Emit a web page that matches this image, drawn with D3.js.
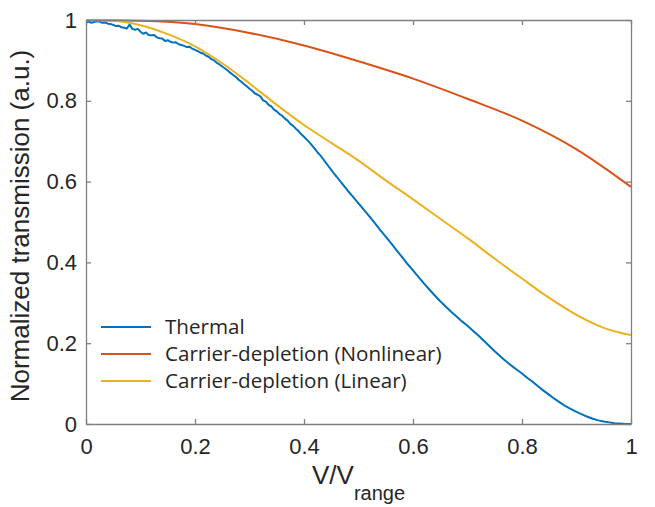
<!DOCTYPE html>
<html>
<head>
<meta charset="utf-8">
<script src="https://cdn.jsdelivr.net/npm/d3@7"></script>
<style>
  html, body { margin: 0; padding: 0; background: #fff; }
  svg { display: block; }
</style>
</head>
<body>
<svg id="chart" width="655" height="507"></svg>
<script>
// ---------- data ----------
const xTicks = [0, 0.2, 0.4, 0.6, 0.8, 1];
const yTicks = [0, 0.2, 0.4, 0.6, 0.8, 1];
const xTickLabels = ["0", "0.2", "0.4", "0.6", "0.8", "1"];
const yTickLabels = ["0", "0.2", "0.4", "0.6", "0.8", "1"];

const seriesNames = ["Thermal", "Carrier-depletion (Nonlinear)", "Carrier-depletion (Linear)"];
const seriesColors = ["#0072BD", "#D95319", "#EDB120"];

// Thermal (measured, noisy)
const thermal = [
  [0.000,0.994],[0.005,0.996],[0.010,0.993],[0.015,0.995],[0.020,0.997],[0.025,0.996],
  [0.030,0.993],[0.035,0.994],[0.040,0.991],[0.045,0.990],[0.050,0.988],[0.055,0.985],
  [0.060,0.986],[0.065,0.982],[0.070,0.981],[0.075,0.979],[0.080,0.989],[0.085,0.978],
  [0.090,0.976],[0.095,0.978],[0.100,0.971],[0.105,0.966],[0.110,0.969],[0.115,0.963],
  [0.120,0.962],[0.125,0.963],[0.130,0.957],[0.135,0.955],[0.140,0.954],[0.145,0.948],
  [0.150,0.950],[0.155,0.946],[0.160,0.944],[0.165,0.945],[0.170,0.940],[0.175,0.938],
  [0.180,0.936],[0.185,0.933],[0.190,0.934],[0.195,0.929],[0.200,0.926],[0.205,0.923],
  [0.210,0.919],[0.215,0.917],[0.220,0.912],[0.225,0.909],[0.230,0.903],[0.235,0.900],
  [0.240,0.894],[0.245,0.890],[0.250,0.885],[0.255,0.880],[0.260,0.875],[0.265,0.869],
  [0.270,0.864],[0.275,0.859],[0.280,0.852],[0.285,0.847],[0.290,0.841],[0.295,0.836],
  [0.300,0.830],[0.305,0.825],[0.310,0.818],[0.315,0.815],[0.320,0.811],[0.325,0.801],
  [0.330,0.798],[0.335,0.790],[0.340,0.786],[0.345,0.778],[0.350,0.774],[0.355,0.767],
  [0.360,0.763],[0.365,0.756],[0.370,0.751],[0.375,0.743],[0.380,0.738],[0.385,0.731],
  [0.390,0.725],[0.395,0.717],[0.400,0.711],[0.405,0.704],[0.410,0.697],[0.415,0.689],
  [0.420,0.681],[0.425,0.672],[0.430,0.665],[0.435,0.656],[0.440,0.647],[0.445,0.638],
  [0.450,0.629],[0.455,0.620],[0.460,0.612],[0.470,0.595],[0.480,0.578],[0.490,0.562],
  [0.500,0.546],[0.510,0.530],[0.520,0.514],[0.530,0.497],[0.540,0.480],[0.550,0.464],
  [0.560,0.447],[0.570,0.430],[0.580,0.413],[0.590,0.396],[0.600,0.380],[0.610,0.364],
  [0.620,0.348],[0.630,0.333],[0.640,0.318],[0.650,0.304],[0.660,0.291],[0.670,0.278],
  [0.680,0.266],[0.690,0.254],[0.700,0.243],[0.710,0.231],[0.720,0.219],[0.730,0.206],
  [0.740,0.193],[0.750,0.180],[0.760,0.168],[0.770,0.156],[0.780,0.145],[0.790,0.135],
  [0.800,0.125],[0.810,0.114],[0.820,0.104],[0.830,0.093],[0.840,0.082],[0.850,0.072],
  [0.860,0.062],[0.870,0.053],[0.880,0.044],[0.890,0.037],[0.900,0.030],[0.910,0.024],
  [0.920,0.018],[0.930,0.013],[0.940,0.009],[0.950,0.006],[0.960,0.004],[0.970,0.002],
  [0.980,0.001],[0.990,0.000],[1.000,0.000]
];

// Carrier-depletion (Nonlinear)
const nonlinearX = [0, 0.1, 0.2, 0.3, 0.4, 0.5, 0.6, 0.7, 0.8, 0.9, 1.0];
const nonlinearY = [1.0, 0.998, 0.990, 0.968, 0.937, 0.898, 0.855, 0.805, 0.751, 0.680, 0.587];

// Carrier-depletion (Linear)
const linearX = [0, 0.05, 0.1, 0.15, 0.2, 0.25, 0.3, 0.35, 0.4, 0.45, 0.5, 0.55, 0.6, 0.65, 0.7, 0.75, 0.8, 0.85, 0.9, 0.95, 1.0];
const linearY = [1.0, 0.998, 0.987, 0.965, 0.935, 0.893, 0.843, 0.790, 0.740, 0.696, 0.652, 0.603, 0.556, 0.508, 0.460, 0.409, 0.360, 0.312, 0.270, 0.238, 0.220];

// ---------- layout ----------
const svg = d3.select("#chart");
const L = 86, R = 631, T = 20, B = 424;
const x = d3.scaleLinear().domain([0, 1]).range([L, R]);
const y = d3.scaleLinear().domain([0, 1]).range([B, T]);

const axisColor = "#808080";
const textColor = "#262626";
const tickFont = "'Liberation Sans', Arial, Helvetica, sans-serif";

svg.append("defs").append("clipPath").attr("id", "clip")
  .append("rect").attr("x", L).attr("y", T - 2).attr("width", R - L + 1).attr("height", B - T + 3);

const line = d3.line().x(d => x(d[0])).y(d => y(d[1]));
const smooth = d3.line().x(d => x(d[0])).y(d => y(d[1])).curve(d3.curveMonotoneX);

const g = svg.append("g").attr("clip-path", "url(#clip)");
g.append("path").datum(thermal).attr("d", line)
  .attr("fill", "none").attr("stroke", seriesColors[0]).attr("stroke-width", 2).attr("stroke-linejoin", "round");
g.append("path").datum(nonlinearX.map((v, i) => [v, nonlinearY[i]])).attr("d", smooth)
  .attr("fill", "none").attr("stroke", seriesColors[1]).attr("stroke-width", 2);
g.append("path").datum(linearX.map((v, i) => [v, linearY[i]])).attr("d", smooth)
  .attr("fill", "none").attr("stroke", seriesColors[2]).attr("stroke-width", 2);

const tl = 5;
const axB = svg.append("g").attr("transform", `translate(0,${B})`)
  .call(d3.axisBottom(x).tickValues(xTicks).tickFormat((d, i) => xTickLabels[i]).tickSizeInner(-tl).tickSizeOuter(0).tickPadding(14));
const axT = svg.append("g").attr("transform", `translate(0,${T})`)
  .call(d3.axisTop(x).tickValues(xTicks).tickFormat("").tickSizeInner(-tl).tickSizeOuter(0));
const axL = svg.append("g").attr("transform", `translate(${L},0)`)
  .call(d3.axisLeft(y).tickValues(yTicks).tickFormat((d, i) => yTickLabels[i]).tickSizeInner(-tl).tickSizeOuter(0).tickPadding(9));
const axR = svg.append("g").attr("transform", `translate(${R},0)`)
  .call(d3.axisRight(y).tickValues(yTicks).tickFormat("").tickSizeInner(-tl).tickSizeOuter(0));

[axB, axT, axL, axR].forEach(a => {
  a.select(".domain").attr("stroke", axisColor).attr("stroke-width", 1.3);
  a.selectAll(".tick line").attr("stroke", axisColor).attr("stroke-width", 1.3);
  a.selectAll(".tick text").attr("fill", textColor).style("font-family", tickFont).style("font-size", "22px");
});
axB.selectAll(".tick text").attr("dy", "0.71em");

svg.append("text")
  .attr("transform", `translate(29,${(T + B) / 2 + 4}) rotate(-90)`)
  .attr("text-anchor", "middle")
  .style("font-family", tickFont).style("font-size", "26px").attr("fill", textColor)
  .text("Normalized transmission (a.u.)");

const xl = svg.append("text")
  .attr("x", (L + R) / 2)
  .attr("y", 484)
  .attr("text-anchor", "middle")
  .style("font-family", tickFont).attr("fill", textColor);
xl.append("tspan").style("font-size", "26px").text("V/V");
xl.append("tspan").style("font-size", "20px").attr("dy", 16).text("range");

const legendY = [327, 354, 381];
const leg = svg.append("g");
seriesNames.forEach((name, i) => {
  leg.append("line").attr("x1", 101).attr("x2", 151).attr("y1", legendY[i]).attr("y2", legendY[i])
    .attr("stroke", seriesColors[i]).attr("stroke-width", 2);
  leg.append("text").attr("x", 165).attr("y", legendY[i]).attr("dy", "0.36em")
    .style("font-family", "'Open Sans', sans-serif").style("font-size", "20.6px").attr("fill", textColor)
    .text(name);
});
</script>
</body>
</html>
